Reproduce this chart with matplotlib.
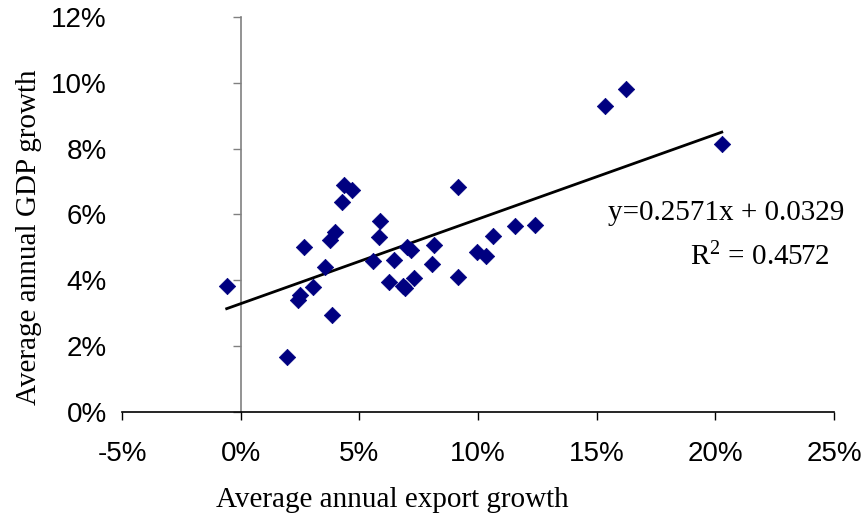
import numpy as np
import matplotlib
matplotlib.use("Agg")
import matplotlib.pyplot as plt
from matplotlib.ticker import FuncFormatter

# export growth vs GDP growth, both in percent
export_growth = [-0.59, 1.97, 2.41, 2.50, 2.67, 3.06, 3.57, 3.86, 3.76, 3.96,
                 4.25, 4.35, 4.68, 5.57, 5.81, 5.88, 6.25, 6.47, 6.82, 6.92,
                 7.02, 7.16, 7.30, 8.06, 8.13, 9.15, 9.15, 9.97, 10.32, 10.64,
                 11.54, 12.38, 15.33, 16.22, 20.27]
gdp_growth = [3.84, 1.66, 3.40, 3.56, 5.02, 3.79, 4.39, 2.94, 5.23, 5.46,
              6.37, 6.89, 6.75, 4.59, 5.31, 5.80, 3.95, 4.61, 3.82, 3.76,
              5.02, 4.92, 4.06, 4.51, 5.06, 6.83, 4.09, 4.86, 4.74, 5.35,
              5.65, 5.69, 9.30, 9.81, 8.14]

# linear trend (fractions, as reported)
slope = 0.2571
intercept = 0.0329
r_squared = 0.4572

x_ticks = [-5, 0, 5, 10, 15, 20, 25]
y_ticks = [0, 2, 4, 6, 8, 10, 12]

sans = "Liberation Sans"
serif = "Liberation Serif"
plt.rcParams["mathtext.fontset"] = "custom"
plt.rcParams["mathtext.rm"] = serif
plt.rcParams["mathtext.it"] = serif

fig = plt.figure(figsize=(8.66, 5.16), dpi=100)
ax = fig.add_axes([0.1409, 0.2016, 0.8222, 0.7655])

ax.scatter(export_growth, gdp_growth, marker="D", s=70, color="#000080",
           edgecolors="#000080", linewidths=0.5, zorder=3)

xs = np.array([min(export_growth), max(export_growth)])
ax.plot(xs, (slope * xs / 100 + intercept) * 100, color="black", lw=2, zorder=2)

ax.set_xlim(-5, 25)
ax.set_ylim(0, 12)

pct = FuncFormatter(lambda v, p: f"{v:.0f}%")

ax.set_xticks(x_ticks)
ax.xaxis.set_major_formatter(pct)
ax.tick_params(axis="x", direction="out", length=6, width=1, pad=15,
               labelsize=20, color="black")

# y labels sit at the left of the plot; the axis line itself is at x = 0
ax.set_yticks(y_ticks)
ax.yaxis.set_major_formatter(pct)
ax.tick_params(axis="y", length=0, pad=11, labelsize=20)

for lab in ax.get_xticklabels() + ax.get_yticklabels():
    lab.set_fontfamily(sans)

for side in ("top", "right", "left"):
    ax.spines[side].set_visible(False)
ax.spines["bottom"].set_color("black")
ax.spines["bottom"].set_linewidth(1.2)

yax = ax.secondary_yaxis(1 / 6)
yax.set_yticks(y_ticks)
yax.tick_params(axis="y", direction="out", length=6, width=1,
                color="#808080", labelleft=False)
yax.spines["left"].set_color("#808080")
yax.spines["left"].set_linewidth(1.2)

ax.set_xlabel("Average annual export growth", fontfamily=serif, fontsize=21)
ax.xaxis.set_label_coords(0.379, -0.19)
ax.set_ylabel("Average annual GDP growth", fontfamily=serif, fontsize=21)
ax.yaxis.set_label_coords(-0.112, 0.442)

ax.text(15.46, 6.05, f"y={slope}x + {intercept}", fontfamily=serif,
        fontsize=21, va="center", ha="left")
ax.text(18.91, 4.72, f"R$^{{2}}$ = {r_squared}", fontfamily=serif,
        fontsize=21, va="center", ha="left")

fig.savefig("out.png", dpi=100)
